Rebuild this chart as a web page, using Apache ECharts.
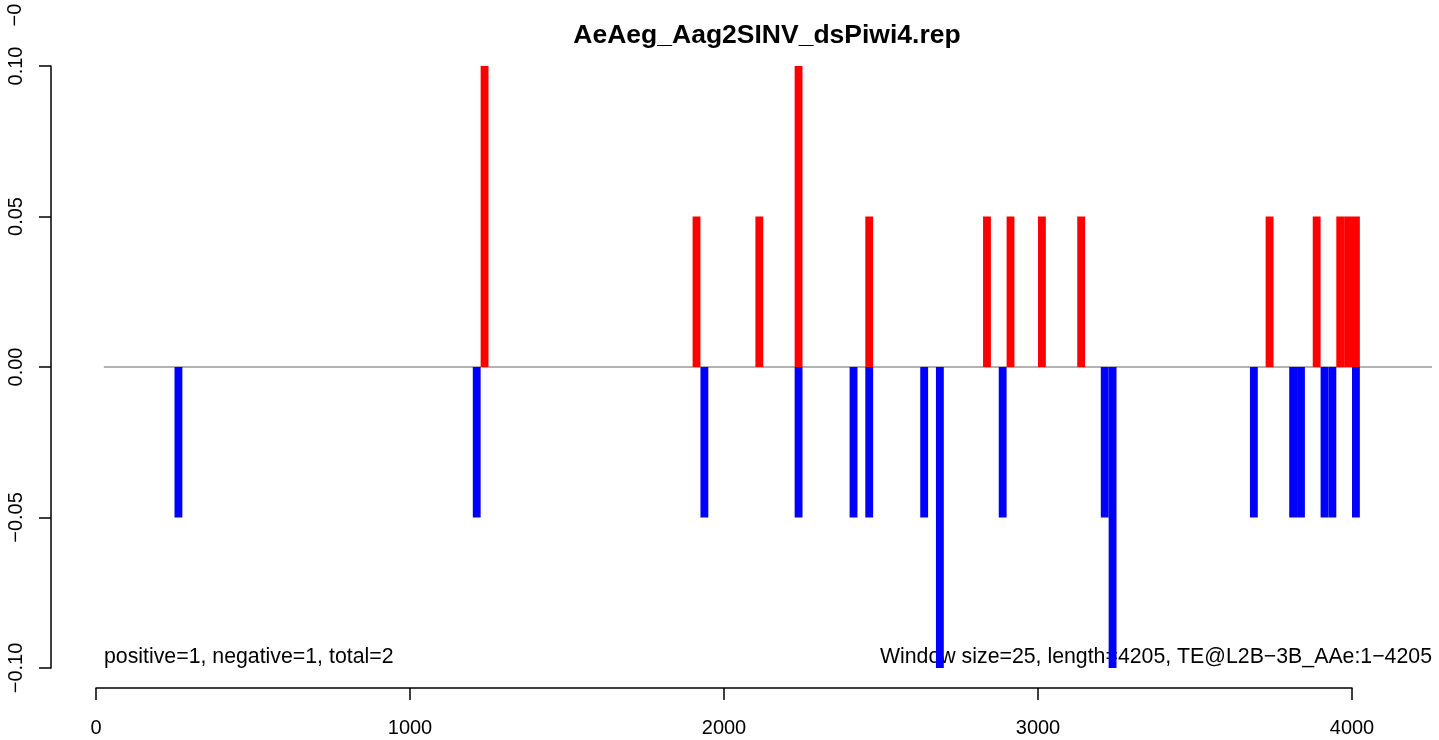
<!DOCTYPE html>
<html>
<head>
<meta charset="utf-8">
<script src="https://cdn.jsdelivr.net/npm/echarts@6/dist/echarts.min.js"></script>
<style>html,body{margin:0;padding:0;background:#fff;}#c{width:1439px;height:740px;}</style>
</head>
<body>
<div id="c"></div>
<script>
const TITLE = 'AeAeg_Aag2SINV_dsPiwi4.rep';
const WINDOW = 25;
const posStarts = [1225, 1900, 2100, 2225, 2450, 2825, 2900, 3000, 3125, 3725, 3875, 3950, 3975, 4000];
const posValues = [0.1, 0.05, 0.05, 0.1, 0.05, 0.05, 0.05, 0.05, 0.05, 0.05, 0.05, 0.05, 0.05, 0.05];
const negStarts = [250, 1200, 1925, 2225, 2400, 2450, 2625, 2675, 2875, 3200, 3225, 3675, 3800, 3825, 3900, 3925, 4000];
const negValues = [-0.05, -0.05, -0.05, -0.05, -0.05, -0.05, -0.05, -0.1, -0.05, -0.05, -0.1, -0.05, -0.05, -0.05, -0.05, -0.05, -0.05];
const xTicks = [0, 1000, 2000, 3000, 4000];
const yTicks = [-0.1, -0.05, 0, 0.05, 0.1];
const baseline = [[25, 0], [4255, 0]];
const leftNote = 'positive=1, negative=1, total=2';
const rightNote = 'Window size=25, length=4205, TE@L2B\u22123B_AAe:1\u22124205';

const FONT = "'Liberation Sans', Arial, Helvetica, sans-serif";
const chart = echarts.init(document.getElementById('c'), null, {renderer: 'canvas'});

function rectItem(params, api) {
  const s = api.value(0), v = api.value(1);
  const p0 = api.coord([s, 0]);
  const p1 = api.coord([s + WINDOW, v]);
  return {
    type: 'rect',
    shape: {x: p0[0], y: Math.min(p0[1], p1[1]), width: p1[0] - p0[0], height: Math.abs(p1[1] - p0[1])},
    style: {fill: api.visual('color')}
  };
}

const option = {
  animation: false,
  backgroundColor: '#fff',
  title: {
    text: TITLE, left: 762, top: 17, textAlign: 'center',
    textStyle: {fontFamily: FONT, fontWeight: 'bold', fontSize: 26.5, color: '#000'}
  },
  grid: [
    {left: 51, top: 66, width: 1388, height: 602},
    {left: 96, top: 687, width: 1256, height: 1}
  ],
  xAxis: [
    {gridIndex: 0, type: 'value', min: -143.3, max: 4277.07, show: false},
    {gridIndex: 1, type: 'value', min: 0, max: 4000, interval: 1000, position: 'bottom',
     axisLine: {show: true, onZero: false, lineStyle: {color: '#000', width: 1.5}},
     axisTick: {show: true, length: 12, inside: false, lineStyle: {color: '#000', width: 1.5}},
     splitLine: {show: false},
     axisLabel: {show: true, fontSize: 20, fontFamily: FONT, color: '#000', margin: 30,
       formatter: v => String(xTicks.find(x => Math.abs(x - v) < 1e-6) ?? v)}
    }
  ],
  yAxis: [
    {gridIndex: 0, type: 'value', min: -0.1, max: 0.1, interval: 0.05, position: 'left',
     axisLine: {show: true, onZero: false, lineStyle: {color: '#000', width: 1.5}},
     axisTick: {show: true, length: 12, lineStyle: {color: '#000', width: 1.5}},
     splitLine: {show: false},
     axisLabel: {show: true, rotate: 90, fontSize: 20, fontFamily: FONT, color: '#000', margin: 25,
       formatter: v => {
         const t = yTicks.find(x => Math.abs(x - v) < 1e-9);
         const val = t === undefined ? v : t;
         return val.toFixed(2).replace('-', '\u2212');
       }}
    },
    {gridIndex: 1, type: 'value', show: false}
  ],
  series: [
    {type: 'line', xAxisIndex: 0, yAxisIndex: 0, data: baseline, symbol: 'none',
     lineStyle: {color: '#999', width: 1.5}, z: 1, silent: true},
    {type: 'custom', xAxisIndex: 0, yAxisIndex: 0, renderItem: rectItem,
     itemStyle: {color: '#ff0000'}, encode: {x: 0, y: 1},
     data: posStarts.map((s, i) => [s, posValues[i]]), z: 3},
    {type: 'custom', xAxisIndex: 0, yAxisIndex: 0, renderItem: rectItem,
     itemStyle: {color: '#0000ff'}, encode: {x: 0, y: 1},
     data: negStarts.map((s, i) => [s, negValues[i]]), z: 3}
  ],
  graphic: [
    {type: 'text', left: 104, top: 647, z: 2,
     style: {text: leftNote, fontSize: 21.3, fontFamily: FONT, fill: '#000'}},
    {type: 'text', right: 7, top: 647, z: 2,
     style: {text: rightNote, fontSize: 21.3, fontFamily: FONT, fill: '#000'}},
    {type: 'text', x: 15, y: 15, rotation: Math.PI / 2, z: 2,
     style: {text: '\u22120', fontSize: 20, fontFamily: FONT, fill: '#000', align: 'center', verticalAlign: 'middle'}}
  ]
};
chart.setOption(option);
</script>
</body>
</html>
